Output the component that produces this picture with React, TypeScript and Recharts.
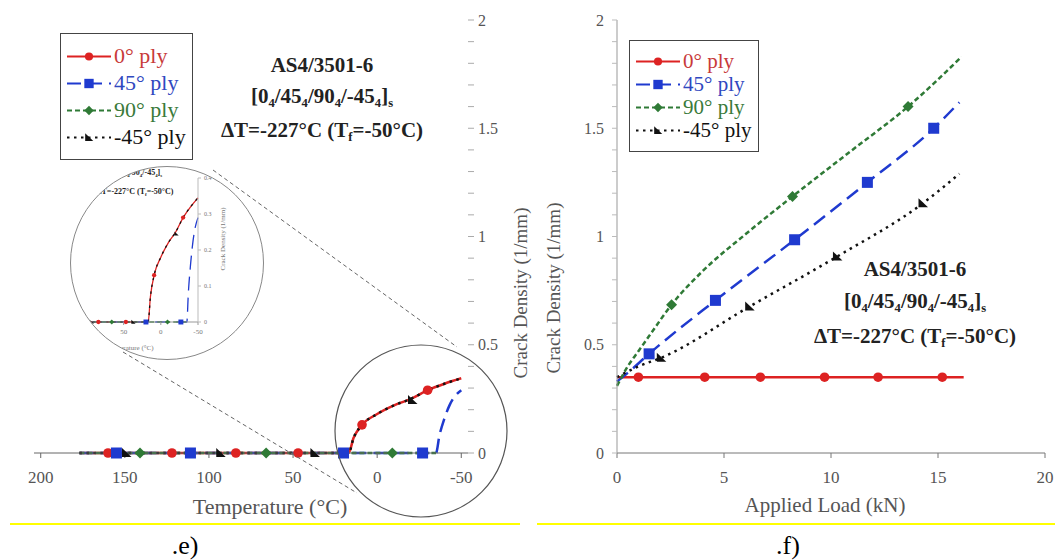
import React from 'react';
import { ComposedChart, Line, Scatter, XAxis, YAxis } from 'recharts';

const SERIF = '"Liberation Serif", "Times New Roman", serif';

// ---- (e) thermal loading: crack density vs temperature ----
const tempTicks = [200, 150, 100, 50, 0, -50];
const densTicks = [0, 0.1, 0.2, 0.3, 0.4, 0.5, 0.6, 0.7, 0.8, 0.9, 1, 1.1, 1.2, 1.3, 1.4, 1.5, 1.6, 1.7, 1.8, 1.9, 2];
const densLabels = [0, 0.5, 1, 1.5, 2];

const redTemp = [177, 17, 14, 9, 0, -10, -20, -30, -40, -50];
const redDens = [0, 0, 0.07, 0.13, 0.18, 0.22, 0.25, 0.29, 0.32, 0.345];
const redMarkTemp = [160, 122, 84, 47, 9, -30];
const redMarkDens = [0, 0, 0, 0, 0.13, 0.29];

const blueTemp = [177, -35, -37, -40, -43, -46, -50];
const blueDens = [0, 0, 0.08, 0.16, 0.22, 0.26, 0.29];
const blueMarkTemp = [155, 111, 20, -27];
const blueMarkDens = [0, 0, 0, 0];

const greenTemp = [177, -35];
const greenDens = [0, 0];
const greenMarkTemp = [141, 66, -9];
const greenMarkDens = [0, 0, 0];

const blackTemp = [177, 17, 14, 9, 0, -10, -20, -30, -40, -50];
const blackDens = [0, 0, 0.07, 0.13, 0.18, 0.22, 0.25, 0.29, 0.32, 0.345];
const blackMarkTemp = [149, 93, 37, -21];
const blackMarkDens = [0, 0, 0, 0.245];

// ---- (f) mechanical loading: crack density vs applied load ----
const loadTicks = [0, 5, 10, 15, 20];

const redLoad = [0, 16.2];
const redLoadDens = [0.35, 0.35];
const redLoadMark = [1.0, 4.1, 6.7, 9.7, 12.2, 15.2];
const redLoadMarkDens = [0.35, 0.35, 0.35, 0.35, 0.35, 0.35];

const blueLoad = [0, 0.5, 1.5, 4.6, 8.3, 11.7, 14.8, 16.0];
const blueLoadDens = [0.33, 0.37, 0.458, 0.705, 0.985, 1.25, 1.5, 1.62];
const blueLoadMark = [1.5, 4.6, 8.3, 11.7, 14.8];
const blueLoadMarkDens = [0.458, 0.705, 0.985, 1.25, 1.5];

const greenLoad = [0, 0.5, 1, 1.5, 2.55, 4, 6, 8.2, 11, 13.6, 16.1];
const greenLoadDens = [0.31, 0.4, 0.47, 0.54, 0.685, 0.84, 1.01, 1.185, 1.4, 1.6, 1.83];
const greenLoadMark = [2.55, 8.2, 13.6];
const greenLoadMarkDens = [0.685, 1.185, 1.6];

const blackLoad = [0, 1, 2.07, 6.2, 10.3, 14.3, 16.0];
const blackLoadDens = [0.35, 0.4, 0.44, 0.677, 0.908, 1.154, 1.29];
const blackLoadMark = [2.07, 6.2, 10.3, 14.3];
const blackLoadMarkDens = [0.44, 0.677, 0.908, 1.154];

const plyLabels = ['0° ply', '45° ply', '90° ply', '-45° ply'];

const RED = '#dd2222';
const BLUE = '#1f3acf';
const GREEN = '#2f7a36';
const BLACK = '#111';

const mk = (xs: number[], ys: number[]) => xs.map((x, i) => ({ x, y: ys[i] }));

const styles = [
  { color: RED, text: '#c83a3a', dash: undefined, kind: 'circle' },
  { color: BLUE, text: '#3048c0', dash: '14 7', kind: 'square' },
  { color: GREEN, text: '#3a7a3a', dash: '5 3', kind: 'diamond' },
  { color: BLACK, text: '#111', dash: '2.5 4.5', kind: 'triangle' },
];

function Marker({ kind, cx, cy, color, s = 1 }: any) {
  if (cx == null || cy == null) return <g />;
  if (kind === 'circle') return <circle cx={cx} cy={cy} r={4.8 * s} fill={color} />;
  if (kind === 'square') return <rect x={cx - 5.5 * s} y={cy - 5.5 * s} width={11 * s} height={11 * s} fill={color} />;
  if (kind === 'diamond')
    return <polygon points={`${cx},${cy - 5.5 * s} ${cx + 5.5 * s},${cy} ${cx},${cy + 5.5 * s} ${cx - 5.5 * s},${cy}`} fill={color} />;
  return <polygon points={`${cx - 4.5 * s},${cy - 5 * s} ${cx - 4.5 * s},${cy + 4 * s} ${cx + 5 * s},${cy + 4 * s}`} fill={color} />;
}

const thermalSeries = [
  { curve: mk(redTemp, redDens), marks: mk(redMarkTemp, redMarkDens) },
  { curve: mk(blueTemp, blueDens), marks: mk(blueMarkTemp, blueMarkDens) },
  { curve: mk(greenTemp, greenDens), marks: mk(greenMarkTemp, greenMarkDens) },
  { curve: mk(blackTemp, blackDens), marks: mk(blackMarkTemp, blackMarkDens) },
];

const loadSeries = [
  { curve: mk(redLoad, redLoadDens), marks: mk(redLoadMark, redLoadMarkDens) },
  { curve: mk(blueLoad, blueLoadDens), marks: mk(blueLoadMark, blueLoadMarkDens) },
  { curve: mk(greenLoad, greenLoadDens), marks: mk(greenLoadMark, greenLoadMarkDens) },
  { curve: mk(blackLoad, blackLoadDens), marks: mk(blackLoadMark, blackLoadMarkDens) },
];

function renderSeries(series: any[], s: number, width: number) {
  const lines = series.map((sr, i) => (
    <Line
      key={'l' + i}
      data={sr.curve}
      dataKey="y"
      type="monotone"
      stroke={styles[i].color}
      strokeWidth={width}
      strokeDasharray={styles[i].dash}
      dot={false}
      activeDot={false}
      isAnimationActive={false}
    />
  ));
  const marks = series.map((sr, i) => (
    <Scatter
      key={'m' + i}
      data={sr.marks}
      dataKey="y"
      isAnimationActive={false}
      shape={(p: any) => <Marker kind={styles[i].kind} cx={p.cx} cy={p.cy} color={styles[i].color} s={s} />}
    />
  ));
  return [...lines, ...marks];
}

const fmtDens = (v: number) => (densLabels.includes(Math.round(v * 10) / 10) ? String(Math.round(v * 10) / 10) : '');

function LegendBox({ left, top, width, height, fontSize, rowH }: any) {
  return (
    <div
      style={{
        position: 'absolute', left, top, width, height, boxSizing: 'border-box',
        border: '1.5px solid #444', background: '#fff', fontFamily: SERIF, fontSize,
        paddingTop: (height - rowH * 4) / 2 - 1,
      }}
    >
      {plyLabels.map((lab, i) => (
        <div key={lab} style={{ display: 'flex', alignItems: 'center', height: rowH, whiteSpace: 'nowrap' }}>
          <svg width={52} height={rowH} style={{ flex: 'none' }}>
            <line x1={6} x2={50} y1={rowH / 2} y2={rowH / 2} stroke={styles[i].color} strokeWidth={2} strokeDasharray={styles[i].dash} />
            <Marker kind={styles[i].kind} cx={28} cy={rowH / 2} color={styles[i].color} s={0.85} />
          </svg>
          <span style={{ color: styles[i].text, marginLeft: 1 }}>{lab}</span>
        </div>
      ))}
    </div>
  );
}

const subS: React.CSSProperties = { fontSize: '0.6em', verticalAlign: 'baseline', position: 'relative', top: '0.35em' };

function Annotation({ cx, top, fontSize, lineH, title = true }: any) {
  return (
    <div
      style={{
        position: 'absolute', left: cx - 160, width: 320, top, textAlign: 'center', fontFamily: SERIF,
        fontWeight: 'bold', fontSize, lineHeight: lineH + 'px', color: '#222', whiteSpace: 'nowrap',
      }}
    >
      {title && <div>AS4/3501-6</div>}
      <div>
        [0<span style={subS}>4</span>/45<span style={subS}>4</span>/90<span style={subS}>4</span>/-45<span style={subS}>4</span>]<span style={subS}>s</span>
      </div>
      <div>
        ΔT=-227°C (T<span style={subS}>f</span>=-50°C)
      </div>
    </div>
  );
}

export default function App() {
  const tickX = { fill: '#555', fontSize: 17, fontFamily: SERIF };
  const tickY = { fill: '#555', fontSize: 16, fontFamily: SERIF };
  return (
    <div style={{ position: 'absolute', left: 0, top: 0, width: 1055, height: 560, background: '#fff', overflow: 'hidden', fontFamily: SERIF }}>
      {/* (e) */}
      <div style={{ position: 'absolute', left: 0, top: 0 }}>
        <ComposedChart width={508} height={495} margin={{ top: 20, right: 0, left: 34, bottom: 0 }}>
          <XAxis
            type="number" dataKey="x" domain={[-54, 204]} reversed ticks={tempTicks}
            height={42} tick={tickX} tickSize={5} tickMargin={13}
            axisLine={{ stroke: '#666' }} tickLine={{ stroke: '#666' }}
          />
          <YAxis
            type="number" dataKey="y" orientation="right" domain={[0, 2]} ticks={densTicks}
            width={40} tick={tickY} tickFormatter={fmtDens} tickSize={6} tickMargin={4}
            axisLine={false} tickLine={{ stroke: '#aaa' }}
          />
          <YAxis
            yAxisId="l" type="number" orientation="left" domain={[0, 2]} ticks={densTicks}
            width={8} tickFormatter={() => ''} tickSize={6} mirror axisLine={false} tickLine={{ stroke: '#c8c8c8' }}
          />
          {renderSeries(thermalSeries, 1, 2.5)}
        </ComposedChart>
      </div>

      <Annotation cx={322} top={50} fontSize={21} lineH={31} />
      <LegendBox left={60} top={33} width={133} height={127} fontSize={22} rowH={27} />

      {/* magnified inset */}
      <div
        style={{
          position: 'absolute', left: 70, top: 166, width: 192, height: 192, borderRadius: '50%',
          border: '1px solid #888', overflow: 'hidden', background: '#fff', zIndex: 2,
        }}
      >
        <div style={{ position: 'absolute', left: -50, top: 0 }}>
          <ComposedChart width={202} height={175} margin={{ top: 11, right: 0, left: 6, bottom: 0 }}>
            <XAxis
              type="number" dataKey="x" domain={[-50, 180]} reversed ticks={[50, 0, -50]}
              height={20} tick={{ fill: '#777', fontSize: 7 }} tickSize={3} tickMargin={4}
              axisLine={{ stroke: '#999' }} tickLine={{ stroke: '#999' }}
            />
            <YAxis
              type="number" dataKey="y" orientation="right" domain={[0, 0.4]} ticks={[0, 0.1, 0.2, 0.3, 0.4]}
              width={25} tick={{ fill: '#777', fontSize: 6 }} tickSize={3} tickMargin={3}
              axisLine={{ stroke: '#bbb' }} tickLine={{ stroke: '#bbb' }}
            />
            {renderSeries(thermalSeries, 0.45, 1.3)}
          </ComposedChart>
        </div>
        <Annotation cx={64} top={-3} fontSize={8} lineH={18} title={false} />
        <svg width={192} height={192} style={{ position: 'absolute', left: 0, top: 0 }}>
          <text x={152} y={72} transform="rotate(-90 152 72)" textAnchor="middle" dominantBaseline="central" fontSize={7} fill="#777" fontFamily={SERIF}>
            Crack Density (1/mm)
          </text>
          <text x={58} y={183} textAnchor="middle" fontSize={7} fill="#777" fontFamily={SERIF}>
            Temperature (°C)
          </text>
        </svg>
      </div>

      <div style={{ position: 'absolute', left: 170, width: 200, top: 494, textAlign: 'center', fontSize: 22, color: '#555', lineHeight: '26px' }}>
        Temperature (°C)
      </div>

      {/* (f) */}
      <div style={{ position: 'absolute', left: 520, top: 0 }}>
        <ComposedChart width={535} height={495} margin={{ top: 20, right: 0, left: 0, bottom: 0 }}>
          <XAxis
            type="number" dataKey="x" domain={[0, 20]} ticks={loadTicks}
            height={42} tick={tickX} tickSize={5} tickMargin={13}
            axisLine={{ stroke: '#777' }} tickLine={{ stroke: '#777' }}
          />
          <YAxis
            type="number" dataKey="y" domain={[0, 2]} ticks={densTicks}
            width={97} tick={tickY} tickFormatter={fmtDens} tickSize={5} tickMargin={8}
            axisLine={{ stroke: '#999' }} tickLine={{ stroke: '#bbb' }}
          />
          <YAxis
            yAxisId="r" type="number" orientation="right" domain={[0, 2]} ticks={densTicks}
            width={10} tickFormatter={() => ''} tickSize={6} axisLine={false} tickLine={{ stroke: '#c8c8c8' }}
          />
          {renderSeries(loadSeries, 1, 2.5)}
        </ComposedChart>
      </div>

      <LegendBox left={629} top={40} width={130} height={112} fontSize={21} rowH={23} />
      <Annotation cx={915} top={253} fontSize={21} lineH={32} />

      <div style={{ position: 'absolute', left: 725, width: 200, top: 492, textAlign: 'center', fontSize: 21, color: '#555', lineHeight: '26px' }}>
        Applied Load (kN)
      </div>

      {/* overlay: magnifier outline, connectors, rotated axis titles */}
      <svg width={1055} height={560} style={{ position: 'absolute', left: 0, top: 0, pointerEvents: 'none', zIndex: 3 }}>
        <circle cx={421} cy={431} r={86} fill="none" stroke="#555" strokeWidth={1.2} />
        <line x1={213} y1={170} x2={457} y2={347} stroke="#666" strokeWidth={1} strokeDasharray="4 3" />
        <line x1={123} y1={352} x2={357} y2={493} stroke="#666" strokeWidth={1} strokeDasharray="4 3" />
        <text x={520} y={293} transform="rotate(-90 520 293)" textAnchor="middle" dominantBaseline="central" fontSize={19} fill="#555" fontFamily={SERIF}>
          Crack Density (1/mm)
        </text>
        <text x={553} y={288} transform="rotate(-90 553 288)" textAnchor="middle" dominantBaseline="central" fontSize={19} fill="#555" fontFamily={SERIF}>
          Crack Density (1/mm)
        </text>
      </svg>

      <div style={{ position: 'absolute', left: 10, top: 523, width: 510, height: 2, background: '#ffff00' }} />
      <div style={{ position: 'absolute', left: 537, top: 523, width: 518, height: 2, background: '#ffff00' }} />
      <div style={{ position: 'absolute', left: 135, width: 100, top: 531, textAlign: 'center', fontSize: 26, color: '#000', lineHeight: '30px' }}>
        .e)
      </div>
      <div style={{ position: 'absolute', left: 738, width: 100, top: 531, textAlign: 'center', fontSize: 26, color: '#000', lineHeight: '30px' }}>
        .f)
      </div>
    </div>
  );
}
